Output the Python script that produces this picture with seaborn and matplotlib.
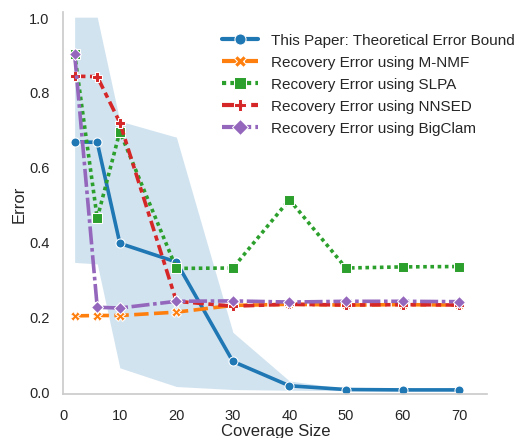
import numpy as np
import pandas as pd
import matplotlib
matplotlib.use("Agg")
import matplotlib.pyplot as plt
import seaborn as sns

sns.set_theme(style="whitegrid")
plt.rcParams["font.family"] = ["Liberation Sans", "DejaVu Sans"]

# --------------------------------------
# data
# --------------------------------------
coverage = [2, 6, 10, 20, 30, 40, 50, 60, 70]

methods = [
    "This Paper: Theoretical Error Bound",
    "Recovery Error using M-NMF",
    "Recovery Error using SLPA",
    "Recovery Error using NNSED",
    "Recovery Error using BigClam",
]

bound_err = [0.667, 0.665, 0.395, 0.345, 0.079, 0.014, 0.004, 0.003, 0.003]
mnmf_err = [0.201, 0.202, 0.202, 0.211, 0.229, 0.232, 0.230, 0.231, 0.230]
slpa_err = [0.902, 0.462, 0.694, 0.328, 0.329, 0.512, 0.329, 0.332, 0.333]
nnsed_err = [0.842, 0.841, 0.718, 0.240, 0.227, 0.232, 0.230, 0.231, 0.230]
bigclam_err = [0.902, 0.224, 0.222, 0.240, 0.241, 0.238, 0.240, 0.240, 0.239]

# shaded band round the theoretical bound
bound_lo = [0.344, 0.340, 0.062, 0.012, 0.004, 0.002, 0.001, 0.001, 0.001]
bound_hi = [1.000, 1.000, 0.722, 0.679, 0.157, 0.027, 0.006, 0.005, 0.005]

all_err = [bound_err, mnmf_err, slpa_err, nnsed_err, bigclam_err]

df = pd.concat(
    [pd.DataFrame({"Coverage Size": coverage, "Error": e, "method": m})
     for m, e in zip(methods, all_err)],
    ignore_index=True,
)

# --------------------------------------
# plot
# --------------------------------------
fig = plt.figure(figsize=(5.16, 4.39), dpi=100)
ax = fig.add_axes([0.1227, 0.1002, 0.8217, 0.8695])

palette = sns.color_palette("tab10", 5)
ax.fill_between(coverage, bound_lo, bound_hi, color=palette[0], alpha=0.2, lw=0)

sns.lineplot(
    data=df, x="Coverage Size", y="Error",
    hue="method", style="method", hue_order=methods, style_order=methods,
    palette=palette, markers=["o", "X", "s", "P", "D"], dashes=True,
    errorbar=None, linewidth=2.6, markersize=6.5, ax=ax,
)

ax.grid(False)
ax.set_xlim(0, 75)
ax.set_ylim(-0.008, 1.013)
ax.set_xticks([0, 10, 20, 30, 40, 50, 60, 70])
ax.set_yticks([0.0, 0.2, 0.4, 0.6, 0.8, 1.0])
ax.tick_params(labelsize=10.5, colors=".15", pad=4)
ax.set_xlabel("Coverage Size", fontsize=12, color=".15", labelpad=1)
ax.set_ylabel("Error", fontsize=12, color=".15", labelpad=2)
sns.despine(ax=ax)

old = ax.get_legend()
handles = old.legend_handles
labels = [t.get_text() for t in old.get_texts()]
old.remove()
for h in handles:
    h.set_markersize(8)
    h.set_linewidth(3)
fig.legend(
    handles, labels, loc="upper left", bbox_to_anchor=(0.418, 0.936),
    frameon=False, fontsize=11, handlelength=2.4, borderaxespad=0,
    labelspacing=0.52,
)

fig.savefig("out.png", dpi=100)
